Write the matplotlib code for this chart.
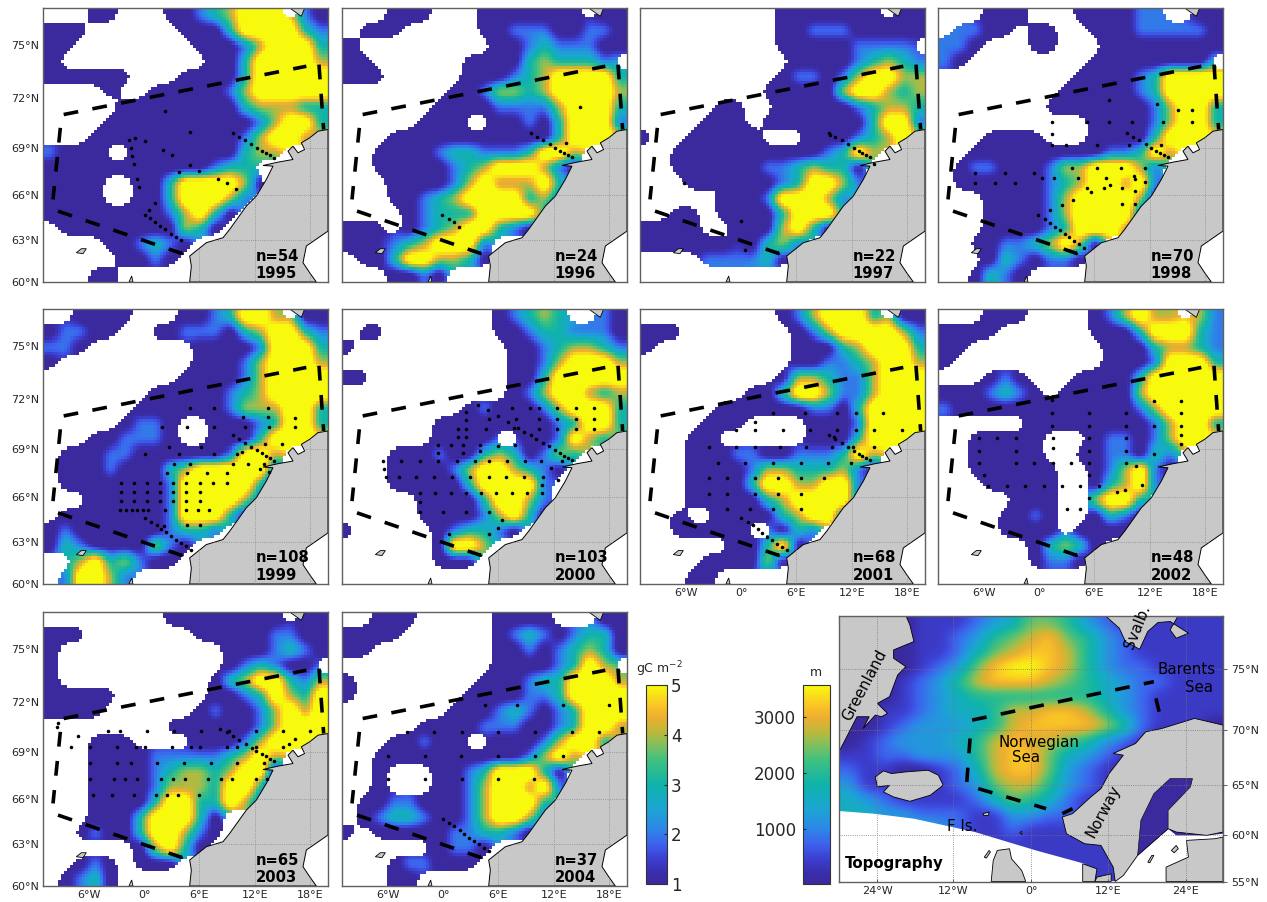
import numpy as np
import matplotlib
matplotlib.use("Agg")
import matplotlib.pyplot as plt
from matplotlib.colors import LinearSegmentedColormap, Normalize
from matplotlib.cm import ScalarMappable
from matplotlib.patches import Polygon

FIELD_1995 = ["...11...11234555.21","111......1113555532","11........111245553","1..........11355554","111111...1111355555","....1..111112455555",".....11111111344433","....111111111124553","...1111111.1124554.","2111..1111111344...","11111111111233.....","1111..113555541....","1111..11355542.....","111111112453 1......".replace(" ",""),".11111111431.......","....112321.........",".....1121..........","...11.............."]
FIELD_1996 = ["...111...1111111.11",".111.....1122211221","1.........112322211","11......1111343332.","111.....11123455553",".......112443455554","......1111222245553",".....111..112135552","...111111111113555.","..11112332223554...","..11111234555421...","...111124544453....","...112345555342....","....12333555531....","111.123455321......","11.2345552.........",".113554431.........","...1121............"]
FIELD_1997 = [".........1111111.11",".........1122211111",".........111112222.","..........111123432",".........1221245544","........11111455434",".....11..1111123443","....111.11111113552","1..11111...1112345.","..11111111112354...","..1111112234331....","...11.111235542....",".....111255542.....","..11.111135553.....","1111..1114531......","111111.1342........","....222231.........","..................."]
FIELD_1998 = ["...111...111122..11",".2211.11..111222221","221...11...11111111","21........11111111.",".........1111235555","........11111235555",".......111111124553","..........111124553","...1111...11113555.","..11111111122354...",".12211124455542....",".1111.123455452....","...111124555541....","...11112455552.....","...1111235554......","..112234541........","...1321221.........","..1321............."]
FIELD_1999 = ["..1111...1123554.11","12211..112221345532","221.......111125553","1.........111245554",".........1111245555",".......111112345555","......1111112444553",".....1221..11123553","...112221..1113555.",".111221111112554...",".111211134555552...",".111111125555531...","...111112555542....",".1111111255531.....","121111112332.......","1321111421.........","..4534211..........",".25542............."]
FIELD_2000 = ["..........12343..21",".11.......112332221","1..........11234432","...........11245554","11.........11355555","...........12455434","........12111245553","......1111111123553","......1111..112543.","...1112113431243...","...111124554321....","...11111355552.....",".....111135542.....",".....111124531.....","1.....123321.......","......1554.........","......111..........","..................."]
FIELD_2001 = [".........1245553.11","111.......124555542","1.........111345553","..........112234554",".........1443224555",".......113554224555",".....11111122135555","....111....11125555","...11......1113555.","...1112211222354...","...1111244333421...","...111135544552....","...111113455552....","..1..111134552.....","..11111..132.......","......11351........","....111141.........","...11.............."]
FIELD_2002 = ["...111....124544.42","1111......111355532","11.........11134432","1..........11125553","...121...1111355555","1112321.11111455555","2111111111111245555","......1111111124553","..11111...12212455.","..11111..1122132...","..111111..124521...","...11111..13452....",".....111..4553.....","....1121..1321.....","....1111.1111......","......13431........","......1221.........","..................."]
FIELD_2003 = ["........11111111.11","111.......111112211","1...........1112321","1...........123211.","1..........13455324","11111......11235435","1111......121124545","........11111124555","...111....11124555.","...1111222223454...","...1111234434551...","...1111244435531...","...111135533542....","...111355531.......","..1211355421.......","......14531........","..121.111..........",".1231.............."]
FIELD_2004 = ["..111.....1111...11","1111......123212331","11........112123431","..........11112354.","1........1112335554","1.......11112235555",".......111232123555",".....11112221123554","...11211..11124553.","..11111111112454...","..1...112355531....","..1...112455452....",".1122111245553.....",".1233211245542.....","1.11111223321......","......1221.........","...122111..........","...11.............."]
CLASS_VALUE = {"1":0.7,"2":2.0,"3":3.0,"4":4.0,"5":5.9}

TOPO_ROWS = ["000011123466532111111","000011235678653211111","000011246788753211111","000012368998753221111","000123578887654322111","000123455555554321111","001123445778875321111","001233345788887521110","012333457877653210000","112233357886432100000","211001247886321000000","311111236775321100000","432111124654211100000","443322211332211100000","333343211211111100000","111111111111111100000","111111111111111111111","111111111111111111111"]
TOPO_STEP_M = 400

YEARS = [1995,1996,1997,1998,1999,2000,2001,2002,2003,2004]
COUNTS = [54,24,22,70,108,103,68,48,65,37]

ST_1995 = [(495,333),(572,396),(388,422),(406,414),(435,424),(393,445),(398,470),(403,493),(411,540),(417,564),(490,453),(517,468),(572,497),(537,517),(599,516),(655,538),(683,552),(710,568),(467,610),(448,632),(435,647),(450,657),(465,669),(481,680),(497,690),(513,703),(530,712),(545,722),(699,399),(717,411),(736,422),(754,434),(772,445),(787,455),(798,461),(810,468),(822,475)]
ST_1996 = [(737,321),(588,399),(607,411),(626,422),(645,434),(662,445),(677,454),(688,460),(700,467),(712,473),(694,430),(323,647),(344,660),(359,668),(374,682)]
ST_1997 = [(587,399),(590,405),(607,411),(626,422),(645,434),(662,445),(677,454),(688,460),(700,467),(712,473),(153,552),(323,665),(336,752),(722,493)]
ST_1998 = [(534,300),(679,313),(741,330),(785,330),(785,368),(696,368),(604,368),(534,368),(469,368),(365,368),(365,403),(365,437),(405,437),(500,437),(596,437),(589,399),(607,411),(626,422),(645,434),(662,445),(677,454),(688,460),(700,467),(712,473),(691,437),(642,505),(572,505),(500,505),(425,505),(132,521),(222,521),(311,521),(132,552),(192,552),(252,552),(335,536),(370,536),(443,536),(527,536),(537,558),(521,567),(469,567),(482,579),(575,567),(610,530),(613,538),(643,548),(614,575),(428,601),(394,616),(575,613),(613,613),(359,631),(323,647),(344,660),(359,670),(374,682),(387,692),(402,703),(415,713),(430,725),(445,735),(460,745)]
ST_1999 = [(572,322),(642,322),(805,322),(730,351),(805,349),(886,352),(486,381),(563,381),(642,381),(736,381),(807,381),(886,381),(699,404),(717,417),(736,428),(754,439),(772,449),(787,458),(798,466),(810,473),(822,481),(507,439),(603,439),(797,431),(848,431),(435,462),(538,462),(642,462),(711,462),(728,454),(524,491),(572,491),(701,491),(746,491),(793,491),(782,506),(808,515),(503,517),(563,518),(622,518),(683,518),(364,549),(403,549),(442,549),(481,549),(520,549),(560,549),(600,549),(640,549),(683,549),(364,576),(403,576),(442,576),(481,576),(520,576),(560,576),(600,576),(364,603),(403,603),(442,603),(481,603),(520,603),(560,603),(600,603),(362,629),(379,629),(396,629),(413,629),(430,629),(445,629),(496,629),(560,629),(596,629),(627,629),(435,652),(455,664),(471,674),(484,685),(493,675),(500,695),(515,707),(530,717),(545,727),(560,737),(575,747),(562,674),(600,674)]
ST_2000 = [(430,307),(460,322),(393,328),(531,316),(586,316),(613,316),(668,316),(724,316),(779,316),(393,353),(464,351),(489,342),(519,358),(544,350),(613,350),(668,350),(724,350),(779,350),(369,380),(393,380),(454,380),(538,378),(550,376),(569,388),(589,398),(604,410),(613,380),(668,380),(724,380),(779,380),(369,404),(393,404),(626,421),(311,429),(348,429),(384,429),(435,429),(490,430),(541,428),(644,432),(662,444),(677,453),(688,460),(700,467),(712,473),(311,453),(384,453),(435,445),(145,477),(148,500),(155,524),(200,477),(255,477),(311,477),(366,477),(421,477),(462,477),(517,477),(572,477),(619,477),(683,477),(649,498),(193,524),(245,524),(298,524),(353,524),(407,524),(462,524),(515,524),(569,524),(624,524),(669,533),(623,547),(255,571),(301,571),(348,571),(394,571),(438,571),(485,571),(532,571),(577,571),(623,571),(255,598),(255,628),(324,628),(394,628),(462,628),(503,651),(490,675),(462,693),(343,693)]
ST_2001 = [(420,333),(516,333),(613,333),(668,333),(751,333),(365,358),(310,384),(365,384),(450,384),(532,384),(613,384),(668,384),(724,384),(806,384),(589,399),(607,411),(603,405),(626,421),(227,433),(310,433),(365,433),(442,433),(520,433),(598,433),(645,433),(660,433),(724,433),(662,445),(677,454),(688,460),(700,467),(712,473),(255,481),(337,481),(420,481),(503,481),(586,481),(654,481),(227,527),(282,527),(365,527),(434,527),(503,527),(572,527),(227,574),(282,574),(365,574),(434,574),(503,574),(282,620),(351,620),(420,620),(503,620),(323,646),(344,658),(359,668),(374,680),(388,690),(403,703),(418,713),(432,723),(447,733),(462,743)]
ST_2002 = [(365,293),(669,295),(751,295),(365,333),(476,333),(586,333),(751,333),(365,370),(476,370),(586,370),(669,370),(751,370),(145,408),(200,408),(255,408),(366,408),(476,408),(586,408),(751,397),(751,425),(366,436),(145,445),(255,445),(476,445),(586,445),(669,456),(145,481),(255,481),(311,481),(366,481),(421,481),(476,481),(586,481),(616,492),(159,517),(476,517),(173,551),(230,551),(284,551),(339,551),(394,551),(449,551),(504,551),(559,568),(584,562),(634,549),(476,586),(408,620),(449,620)]
ST_2003 = [(70,357),(67,370),(130,395),(108,428),(219,382),(255,382),(336,382),(418,382),(499,382),(556,375),(575,385),(582,382),(595,397),(613,409),(632,420),(650,432),(662,428),(663,442),(680,450),(692,457),(704,465),(716,472),(662,382),(744,382),(826,382),(781,405),(762,421),(744,428),(164,428),(247,428),(302,428),(329,428),(411,428),(467,428),(494,428),(577,428),(605,428),(164,479),(246,479),(288,479),(367,479),(448,479),(527,479),(606,479),(688,479),(164,527),(236,527),(271,527),(306,527),(378,527),(413,527),(450,527),(520,527),(557,527),(592,527),(662,527),(697,527),(175,574),(230,574),(297,574),(362,574),(395,574),(428,574),(493,574)]
ST_2004 = [(450,302),(545,302),(683,302),(821,302),(215,383),(297,383),(380,383),(488,383),(600,383),(710,383),(793,383),(158,456),(269,456),(378,456),(489,456),(600,456),(683,456),(158,527),(269,527),(380,527),(489,527),(598,527),(323,645),(343,657),(358,668),(374,680),(388,690),(403,702),(418,712),(432,722),(447,732),(462,742)]

ST_ORIGIN = [(130,25),(22,25),(21,25),(22,25),(130,27),(22,21),(21,21),(22,21),(24,24),(21,24)]

FIELDS = [FIELD_1995,FIELD_1996,FIELD_1997,FIELD_1998,FIELD_1999,FIELD_2000,FIELD_2001,FIELD_2002,FIELD_2003,FIELD_2004]
STATIONS = [ST_1995,ST_1996,ST_1997,ST_1998,ST_1999,ST_2000,ST_2001,ST_2002,ST_2003,ST_2004]

LAT_POS = [110,270,420,563,697,823]
LAT_LBL = ["75°N","72°N","69°N","66°N","63°N","60°N"]
LON_POS = [138,305,467,635,800]
LON_LBL = ["6°W","0°","6°E","12°E","18°E"]
W_MAP, H_MAP = 855, 823

NORWAY = [(855,365),(825,370),(800,390),(775,405),(785,425),(765,435),(750,415),(735,430),(750,455),(705,463),(660,473),(690,475),(670,515),(640,565),(610,595),(560,665),(540,690),(490,705),(440,745),(445,775),(440,823),(820,823),(800,795),(780,765),(790,715),(855,670)]
SVALBARD = [(740,0),(775,25),(785,0)]
FAROE = [(100,735),(115,723),(130,723),(120,738)]
SHETLAND = [(258,823),(266,805),(270,823)]
BOX_TOP = [(62,320),(790,175)]
BOX_RIGHT = [(828,170),(842,365)]
BOX_LEFT = [(52,360),(30,575)]
BOX_LOWER = [(45,610),(415,737),(450,720)]

T_NX0, T_NX1, T_NY0, T_NY1 = 515, 1460, 47, 843
T_LAT_POS = [208,390,555,703,843]
T_LAT_LBL = ["75°N","70°N","65°N","60°N","55°N"]
T_LON_POS = [610,797,988,1178,1368]
T_LON_LBL = ["24°W","12°W","0°","12°E","24°E"]
GREENLAND = [(515,47),(680,47),(690,75),(700,125),(650,150),(650,175),(680,200),(660,225),(640,290),(610,310),(635,340),(620,350),(605,345),(575,385),(590,350),(560,350),(520,445),(515,450)]
ICELAND = [(605,530),(625,512),(645,520),(680,515),(735,510),(760,525),(772,555),(740,585),(690,603),(650,590),(625,575),(640,555),(610,560)]
SPITSBERGEN = [(1170,47),(1205,85),(1220,125),(1255,148),(1275,95),(1300,68),(1330,65),(1375,100),(1345,115),(1330,90),(1350,47)]
SCANDINAVIA = [(1460,375),(1425,365),(1390,355),(1350,370),(1310,385),(1270,395),(1245,430),(1190,460),(1215,465),(1180,520),(1160,565),(1135,590),(1090,640),(1065,650),(1075,700),(1120,730),(1160,735),(1190,800),(1195,843),(1215,825),(1250,765),(1325,685),(1345,695),(1420,705),(1460,695)]
BOTHNIA = [(1330,535),(1385,535),(1380,560),(1325,630),(1325,685),(1250,765),(1258,660),(1290,580)]
OUTSIDE = [(515,632),(600,640),(700,655),(850,695),(1000,750),(1120,790),(1140,843),(515,843)]
BALTIC = [(1195,843),(1250,765),(1325,685),(1345,705),(1420,705),(1460,700),(1460,843)]
BALTIC_STATES = [(1320,843),(1320,800),(1375,770),(1370,720),(1440,715),(1460,710),(1460,843)]
DENMARK = [(1115,790),(1150,805),(1145,843),(1115,843)]
SJAELLAND = [(1150,830),(1185,820),(1185,843),(1145,843)]
BRITAIN = [(890,843),(895,780),(905,750),(935,745),(940,775),(965,810),(975,843)]
T_ISLES = [[(870,640),(885,635),(883,645),(872,646)],[(873,770),(885,750),(888,755),(878,773)],[(960,697),(965,693),(966,703)],[(1275,785),(1285,765),(1290,765),(1280,787)],[(1333,750),(1345,735),(1350,745),(1340,757)]]
T_BOX_TOP = [(843,360),(1290,245)]
T_BOX_RIGHT = [(1295,295),(1303,335)]
T_BOX_LEFT = [(838,415),(830,545)]
T_BOX_LOWER = [(858,565),(1025,625)]
T_BOX_HOOK = [(1065,640),(1090,625)]

CB_TICKS = [1,2,3,4,5]
TOPO_TICKS = [1000,2000,3000]
TOPO_MIN, TOPO_MAX = 20, 3570

cmap = LinearSegmentedColormap.from_list("pp", [(0,"#3b2a9e"),(.05,"#3a2da8"),(.13,"#3c40d2"),(.2,"#3d62ee"),(.28,"#2c88e6"),(.38,"#1ba6d2"),(.5,"#0fb3ab"),(.62,"#3dc080"),(.7,"#80c060"),(.76,"#b8ba3c"),(.84,"#efae30"),(.91,"#fbca24"),(1,"#f8fa0e")])
cmap.set_bad("white")

W, H = 1267, 902
fig = plt.figure(figsize=(W/100, H/100), dpi=100, facecolor="white")
TXT = "#262626"

def add_ax(x0, y0, x1, y1):
    return fig.add_axes([x0/W, 1-y1/H, (x1-x0)/W, (y1-y0)/H])

def box(A, n):
    ker = np.ones(n)/n
    P = np.pad(A, n, mode="edge")
    P = np.apply_along_axis(lambda v: np.convolve(v, ker, mode="same"), 0, P)
    P = np.apply_along_axis(lambda v: np.convolve(v, ker, mode="same"), 1, P)
    return P[n:-n, n:-n]

def refine(Z, k=5):
    """Render a coarse reading grid on a finer pixel grid; blank cells stay blank."""
    valid = ~np.isnan(Z)
    F = Z.copy()
    for _ in range(40):
        if not np.isnan(F).any():
            break
        G = F.copy()
        for j, i in zip(*np.where(np.isnan(F))):
            n = F[max(j-1,0):j+2, max(i-1,0):i+2]
            if (~np.isnan(n)).any():
                G[j,i] = np.nanmean(n)
        F = G
    F = np.nan_to_num(F, nan=1.0)
    ny, nx = F.shape
    xf = (np.arange(nx*k)+.5)/k-.5
    yf = (np.arange(ny*k)+.5)/k-.5
    def up(A):
        B = np.array([np.interp(xf, np.arange(nx), r) for r in A])
        return np.array([np.interp(yf, np.arange(ny), c) for c in B.T]).T
    out = box(up(F), 3)
    m = box(box(up(valid.astype(float)), 5), 5)
    out[m < 0.5] = np.nan
    return out

def parse(rows):
    return np.array([[np.nan if c == "." else CLASS_VALUE[c] for c in r.ljust(19,".")[:19]] for r in rows])

def dashed(ax, pts, off=0):
    xs, ys = zip(*pts)
    ax.plot(xs, ys, color="k", lw=2.6, ls=(off,(4.1,4.0)), dash_capstyle="butt", zorder=5)

ROWS_PX = [(8,282),(309,584),(612,886)]
COLS_PX = [(43,328),(342,627),(640,925),(938,1223)]
PANEL_CELL = [(0,0),(0,1),(0,2),(0,3),(1,0),(1,1),(1,2),(1,3),(2,0),(2,1)]

for idx,(r,c) in enumerate(PANEL_CELL):
    ax = add_ax(COLS_PX[c][0], ROWS_PX[r][0], COLS_PX[c][1], ROWS_PX[r][1])
    ax.imshow(refine(parse(FIELDS[idx])), extent=(0,W_MAP,H_MAP,0), cmap=cmap, vmin=1, vmax=5, aspect="auto", interpolation="nearest", zorder=1)
    ax.set_xlim(0,W_MAP); ax.set_ylim(H_MAP,0)
    ax.set_xticks(LON_POS); ax.set_yticks(LAT_POS)
    ax.set_xticklabels(LON_LBL if (r,c) in [(1,2),(1,3),(2,0),(2,1)] else [""]*5, fontsize=8, color=TXT)
    ax.set_yticklabels(LAT_LBL if c == 0 else [""]*6, fontsize=8, color=TXT)
    ax.tick_params(direction="in", length=2, width=.6, top=True, right=True, pad=3, color="#444444")
    ax.set_axisbelow(True)
    ax.grid(True, ls=":", lw=.6, color="#999999")
    land = Polygon(NORWAY, closed=True, fc="#c8c8c8", ec="k", lw=.7, zorder=2)
    ax.add_patch(land)
    for g in LON_POS:
        l, = ax.plot([g,g],[0,H_MAP], ls=":", lw=.6, color="#888888", zorder=2.5)
        l.set_clip_path(land)
    for g in LAT_POS:
        l, = ax.plot([0,W_MAP],[g,g], ls=":", lw=.6, color="#888888", zorder=2.5)
        l.set_clip_path(land)
    for poly in (SVALBARD, FAROE, SHETLAND):
        ax.add_patch(Polygon(poly, closed=True, fc="#c8c8c8", ec="k", lw=.6, zorder=2))
    dashed(ax, BOX_TOP); dashed(ax, BOX_RIGHT); dashed(ax, BOX_LEFT); dashed(ax, BOX_LOWER)
    ox, oy = ST_ORIGIN[idx]
    pts = np.array(STATIONS[idx], float)
    ax.scatter(pts[:,0]-ox, pts[:,1]-oy, s=6.5, c="k", linewidths=0, zorder=6)
    ax.text(638, 745, f"n={COUNTS[idx]}", fontsize=10.6, fontweight="bold", va="center", ha="left", color="k", zorder=7)
    ax.text(638, 797, str(YEARS[idx]), fontsize=10.6, fontweight="bold", va="center", ha="left", color="k", zorder=7)
    for s in ax.spines.values():
        s.set_color("#606060"); s.set_linewidth(1)

cax = add_ax(646,685,667,884)
cb = fig.colorbar(ScalarMappable(Normalize(1,5),cmap), cax=cax, ticks=CB_TICKS)
cb.ax.tick_params(labelsize=12, length=2, direction="in", colors=TXT, pad=3)
cb.outline.set_edgecolor("#333333")
fig.text(659/W, 1-669/H, "gC m$^{-2}$", ha="center", va="center", fontsize=9, color=TXT)

cax2 = add_ax(803,685,830,884)
cb2 = fig.colorbar(ScalarMappable(Normalize(TOPO_MIN,TOPO_MAX),cmap), cax=cax2, ticks=TOPO_TICKS)
cb2.ax.yaxis.set_ticks_position("left")
cb2.ax.tick_params(labelsize=12, length=2, direction="in", colors=TXT, pad=5)
cb2.outline.set_edgecolor("#333333")
fig.text(816/W, 1-672/H, "m", ha="center", va="center", fontsize=9, color=TXT)

ax = add_ax(838.7,615.5,1223,881.5)
T = np.array([[float(c)*TOPO_STEP_M for c in r] for r in TOPO_ROWS])
k = 6
xf = (np.arange(T.shape[1]*k)+.5)/k-.5; yf = (np.arange(T.shape[0]*k)+.5)/k-.5
Tf = np.array([np.interp(xf, np.arange(T.shape[1]), r) for r in T])
Tf = np.array([np.interp(yf, np.arange(T.shape[0]), c) for c in Tf.T]).T
Tf = box(Tf, 5)
ax.imshow(Tf, extent=(T_NX0,T_NX1,T_NY1,T_NY0), cmap=cmap, vmin=TOPO_MIN, vmax=TOPO_MAX, aspect="auto", interpolation="bicubic", zorder=1)
ax.set_xlim(T_NX0,T_NX1); ax.set_ylim(T_NY1,T_NY0)
for p in (OUTSIDE, BALTIC):
    ax.add_patch(Polygon(p, closed=True, fc="white", ec="none", zorder=1.5))
for p in (GREENLAND, ICELAND, SPITSBERGEN, SCANDINAVIA, BALTIC_STATES, DENMARK, SJAELLAND, BRITAIN, *T_ISLES):
    ax.add_patch(Polygon(p, closed=True, fc="#c8c8c8", ec="k", lw=.6, zorder=2))
ax.add_patch(Polygon(BOTHNIA, closed=True, fc="#3b2a9e", ec="k", lw=.4, zorder=2.2))
ax.set_xticks(T_LON_POS); ax.set_xticklabels(T_LON_LBL, fontsize=8, color=TXT)
ax.yaxis.tick_right()
ax.set_yticks(T_LAT_POS); ax.set_yticklabels(T_LAT_LBL, fontsize=8, color=TXT)
ax.tick_params(direction="in", length=2, width=.6, pad=3, color="#444444")
ax.tick_params(axis="y", direction="out", length=3, pad=3)
ax.grid(True, ls=":", lw=.6, color="#777777", zorder=3)
ax.set_axisbelow(False)
for s in ax.spines.values():
    s.set_color("#606060"); s.set_linewidth(1)
for pts in (T_BOX_TOP, T_BOX_RIGHT, T_BOX_LEFT, T_BOX_LOWER, T_BOX_HOOK):
    dashed(ax, pts)
lab = dict(fontsize=10.8, color="k", zorder=7)
ax.text(578,255,"Greenland",rotation=62,ha="center",va="center",**lab)
ax.text(1250,80,"Svalb.",rotation=68,ha="center",va="center",**lab)
ax.text(1442,210,"Barents",ha="right",va="center",**lab)
ax.text(1435,263,"Sea",ha="right",va="center",**lab)
ax.text(1008,427,"Norwegian",ha="center",va="center",**lab)
ax.text(975,471,"Sea",ha="center",va="center",**lab)
ax.text(1165,632,"Norway",rotation=62,ha="center",va="center",**lab)
ax.text(818,677,"F Is.",ha="center",va="center",**lab)
ax.text(530,790,"Topography",fontsize=10.8,fontweight="bold",ha="left",va="center",color="k",zorder=7)

fig.savefig("out.png", dpi=100, facecolor="white")
